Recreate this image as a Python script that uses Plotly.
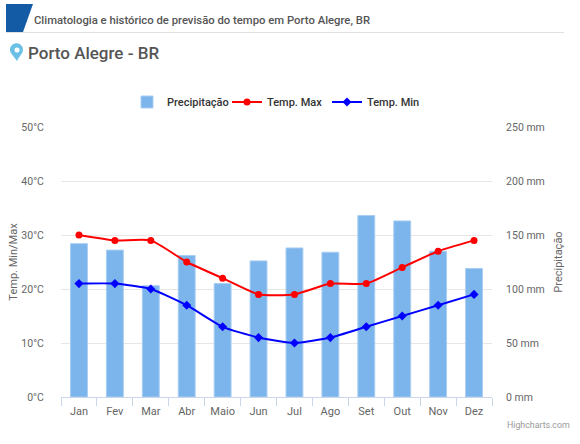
import plotly.graph_objects as go

W, H = 580, 444

meses = ["Jan", "Fev", "Mar", "Abr", "Maio", "Jun", "Jul", "Ago", "Set", "Out", "Nov", "Dez"]
precipitacao = [142, 136, 103, 131, 105, 126, 138, 134, 168, 163, 135, 119]
temp_max = [30, 29, 29, 25, 22, 19, 19, 21, 21, 24, 27, 29]
temp_min = [21, 21, 20, 17, 13, 11, 10, 11, 13, 15, 17, 19]
temp_ticks = [0, 10, 20, 30, 40, 50]
temp_labels = ["0°C", "10°C", "20°C", "30°C", "40°C", "50°C"]
mm_ticks = [0, 50, 100, 150, 200, 250]
mm_labels = ["0 mm", "50 mm", "100 mm", "150 mm", "200 mm", "250 mm"]

FONT = "Roboto"


# page pixels -> paper coords
def px(x):
    return (x - 61) / (W - 61 - 88)


def py(y):
    return (397 - y) / (397 - 127)


fig = go.Figure()

# bars on the primary axis so the lines stay on top of them
fig.add_trace(go.Bar(
    x=meses, y=precipitacao, name="Precipitação", yaxis="y",
    marker=dict(color="#7cb5ec", line=dict(color="#a9cdf2", width=1)),
))
fig.add_trace(go.Scatter(
    x=meses, y=temp_max, name="Temp. Max", yaxis="y2", mode="lines+markers",
    line=dict(color="#ff0000", width=2, shape="spline", smoothing=0.5),
    marker=dict(color="#ff0000", size=7, symbol="circle"),
))
fig.add_trace(go.Scatter(
    x=meses, y=temp_min, name="Temp. Min", yaxis="y2", mode="lines+markers",
    line=dict(color="#0000ff", width=2, shape="spline", smoothing=0.5),
    marker=dict(color="#0000ff", size=7, symbol="diamond"),
))

fig.update_layout(
    width=W, height=H,
    margin=dict(l=61, r=88, t=127, b=47, autoexpand=False),
    paper_bgcolor="white", plot_bgcolor="white",
    font=dict(family=FONT, size=11, color="#666666"),
    bargap=0.53,
    showlegend=True,
    legend=dict(
        orientation="h", x=px(277), xanchor="center", y=py(102), yanchor="middle",
        font=dict(family=FONT, size=11, color="#333333", weight=500),
        itemwidth=30, tracegroupgap=0, entrywidth=55, entrywidthmode="pixels",
    ),
    xaxis=dict(
        type="category", range=[-0.5, 11.5], tickson="boundaries", ticks="outside", ticklen=8,
        tickcolor="#ccd6eb", showline=True, linecolor="#ccd6eb", linewidth=1,
        showgrid=False, tickfont=dict(size=11, color="#666666"), ticklabelstandoff=4,
    ),
    yaxis=dict(
        side="right", range=[0, 250], tickmode="array", tickvals=mm_ticks, ticktext=mm_labels,
        showgrid=True, gridcolor="#e6e6e6", gridwidth=1, zeroline=False,
        ticks="outside", ticklen=11, tickcolor="rgba(0,0,0,0)", tickfont=dict(size=10.5),
        title=dict(text="Precipitação", font=dict(size=11, color="#666666"), standoff=10),
    ),
    yaxis2=dict(
        side="left", overlaying="y", range=[0, 50], tickmode="array", tickvals=temp_ticks, ticktext=temp_labels,
        showgrid=False, zeroline=False,
        ticks="outside", ticklen=14, tickcolor="rgba(0,0,0,0)", tickfont=dict(size=10.5),
        title=dict(text="Temp. Min/Max", font=dict(size=11, color="#666666"), standoff=1),
    ),
    shapes=[
        # page header: blue tab and rule under it
        dict(type="path", xref="paper", yref="paper", layer="above", line_width=0, fillcolor="#135ca5",
             path=f"M {px(6)} {py(4)} L {px(33)} {py(4)} L {px(23)} {py(32)} L {px(6)} {py(32)} Z"),
        dict(type="line", xref="paper", yref="paper", layer="above", line=dict(color="#e0e0e0", width=1),
             x0=px(6), x1=px(564), y0=py(32.5), y1=py(32.5)),
        # location pin
        dict(type="path", xref="paper", yref="paper", layer="above", line_width=0, fillcolor="#6cc0e5",
             path=(f"M {px(17)} {py(61)} C {px(13)} {py(55)} {px(10)} {py(53)} {px(10)} {py(50)} "
                   f"C {px(10)} {py(41)} {px(23)} {py(41)} {px(23)} {py(50)} "
                   f"C {px(23)} {py(53)} {px(20)} {py(55)} {px(17)} {py(61)} Z")),
        dict(type="circle", xref="paper", yref="paper", layer="above", line_width=0, fillcolor="white",
             x0=px(14.5), x1=px(19.5), y0=py(52.5), y1=py(47.5)),
    ],
    annotations=[
        dict(text="Climatologia e histórico de previsão do tempo em Porto Alegre, BR",
             xref="paper", yref="paper", x=px(32), y=py(20.5), xanchor="left", yanchor="middle",
             showarrow=False, font=dict(family=FONT, size=11.3, color="#555555", weight=500)),
        dict(text="Porto Alegre - BR",
             xref="paper", yref="paper", x=px(26), y=py(53), xanchor="left", yanchor="middle",
             showarrow=False, font=dict(family=FONT, size=17, color="#555555", weight=500)),
        dict(text="Highcharts.com",
             xref="paper", yref="paper", x=px(572), y=py(424.5), xanchor="right", yanchor="middle",
             showarrow=False, font=dict(family=FONT, size=8.8, color="#999999")),
    ],
)

# the page's default body margin would push the 580x444 figure out of the window
fig.write_html("out.html", post_script="document.body.style.margin = '0';",
               config={"displayModeBar": False})
